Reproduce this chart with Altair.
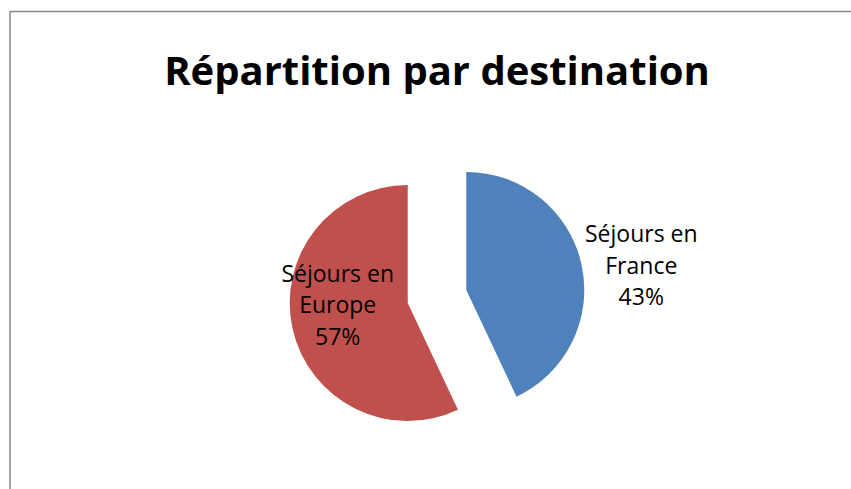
import math
import altair as alt
import pandas as pd

# ---- data ----
categories = ["Séjours en France", "Séjours en Europe"]
label_lines = [["Séjours en", "France"], ["Séjours en", "Europe"]]
shares = [43, 57]
colors = ["#4F81BD", "#C0504D"]

# ---- layout constants (style, not data) ----
W, H = 851, 489
CX, CY = 437, 296.5   # pie centre
R = 118
EXPLODE = 30
LINE_H = 31.5
# label-block centre relative to the exploded slice's centre
LABEL_OFFSET = {"Séjours en France": (175, -23), "Séjours en Europe": (-70, 3)}

total = sum(shares)
rows = []
acc = 0.0
for cat, lines, v in zip(categories, label_lines, shares):
    start = acc / total * 2 * math.pi
    acc += v
    end = acc / total * 2 * math.pi
    mid = (start + end) / 2
    cx = CX + EXPLODE * math.sin(mid)
    cy = CY - EXPLODE * math.cos(mid)
    ox, oy = LABEL_OFFSET[cat]
    rows.append({
        "cat": cat,
        "value": v,
        "start": start,
        "end": end,
        "cx": cx,
        "cy": cy,
        "lx": cx + ox,
        "ly": cy + oy,
        "label": lines + [f"{round(v / total * 100)}%"],
    })
df = pd.DataFrame(rows)

color_scale = alt.Scale(domain=categories, range=colors)

base = alt.Chart(df)

arcs = base.mark_arc(radius=R).encode(
    x=alt.X("cx:Q", scale=None),
    y=alt.Y("cy:Q", scale=None),
    theta=alt.Theta("start:Q", scale=None),
    theta2="end:Q",
    color=alt.Color("cat:N", scale=color_scale, legend=None),
)

labels = base.mark_text(
    font="Open Sans", fontSize=23, lineHeight=LINE_H, align="center",
    baseline="middle", dy=-LINE_H, color="#000000",
).encode(
    x=alt.X("lx:Q", scale=None),
    y=alt.Y("ly:Q", scale=None),
    text="label",
)

title_df = pd.DataFrame({"t": ["Répartition par destination"]})
title = alt.Chart(title_df).mark_text(
    font="Open Sans", fontSize=40, fontWeight="bold", align="center",
    baseline="alphabetic", color="#000000",
).encode(
    x=alt.value(437),
    y=alt.value(85),
    text="t:N",
)

# chart-area border (only top and left edges fall inside the window)
border_top = alt.Chart(title_df).mark_rule(color="#878787", strokeWidth=1.5).encode(
    x=alt.value(10), x2=alt.value(W + 5), y=alt.value(11.5)
)
border_left = alt.Chart(title_df).mark_rule(color="#878787", strokeWidth=1.5).encode(
    x=alt.value(10), y=alt.value(11.5), y2=alt.value(H + 5)
)

chart = alt.layer(border_top, border_left, arcs, labels, title).properties(
    width=W,
    height=H,
    autosize=alt.AutoSizeParams(type="none"),
    padding=0,
    background="#FFFFFF",
).configure_view(stroke=None)

chart.save("out.html", embed_options={"renderer": "svg", "actions": False})
